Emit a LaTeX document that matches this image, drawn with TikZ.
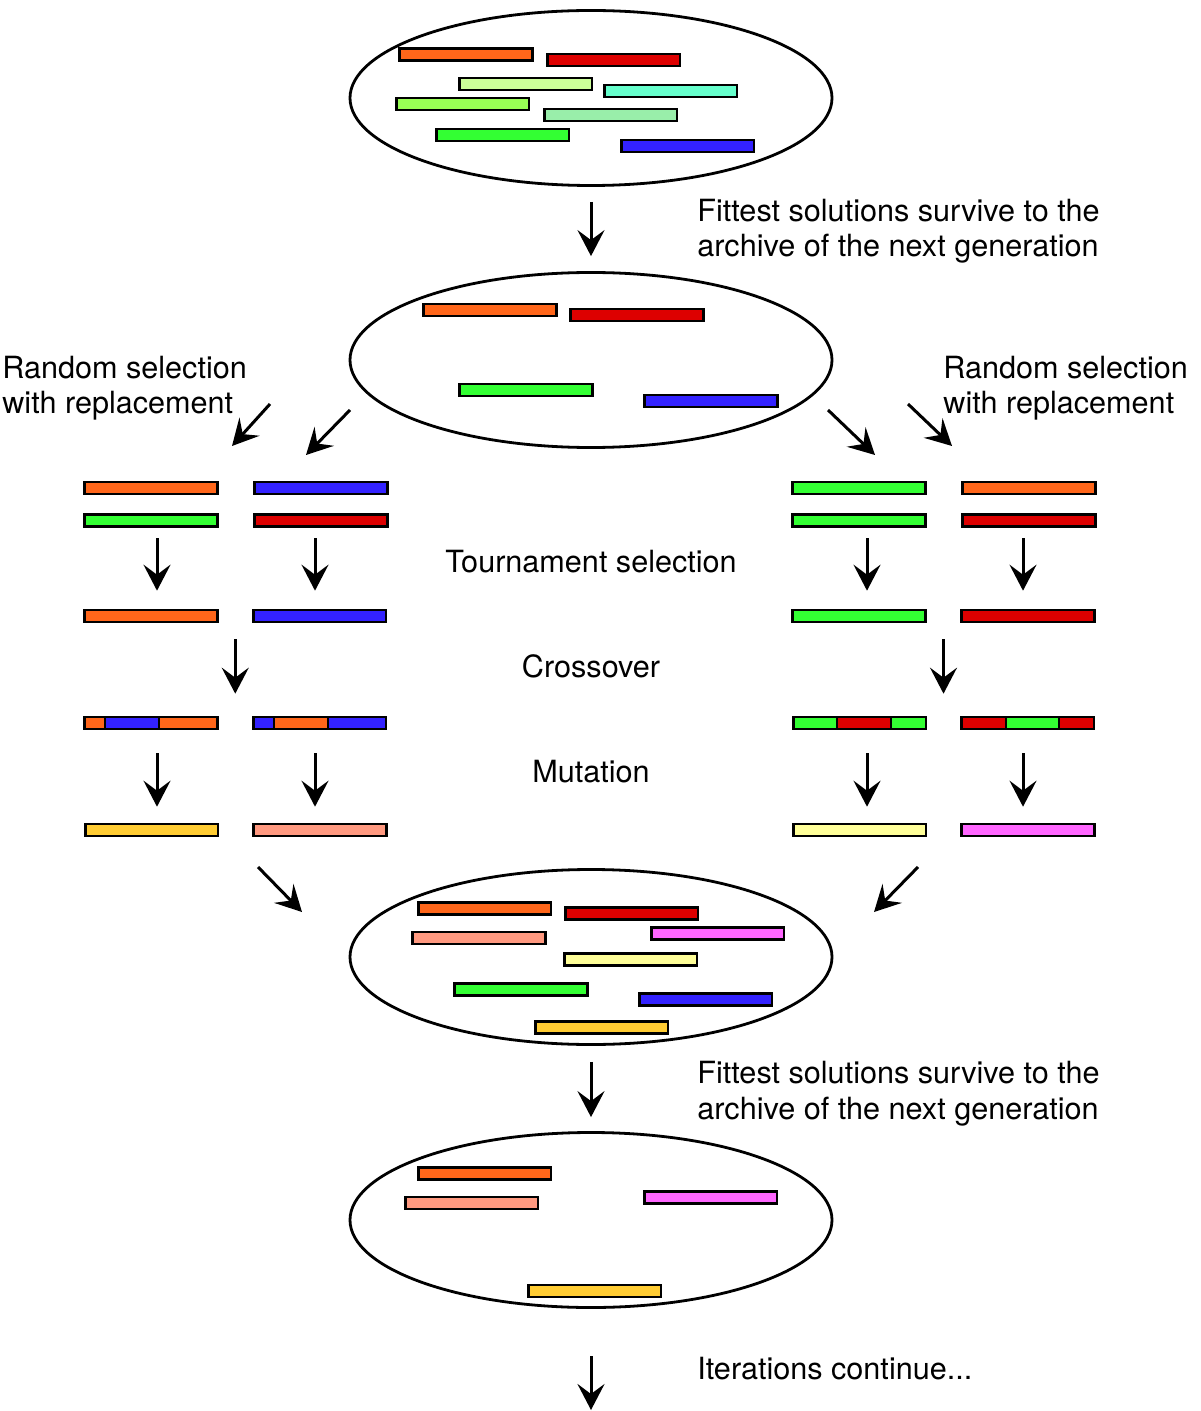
\documentclass[tikz,border=0pt]{standalone}
\usepackage{fontspec}
\setmainfont{TeX Gyre Heros}
\usetikzlibrary{shapes, arrows.meta, positioning, calc}

\definecolor{gOrange}{HTML}{FF661A}
\definecolor{gRed}{HTML}{DD0000}
\definecolor{gLime}{HTML}{CCFF99}
\definecolor{gAqua}{HTML}{66FFCC}
\definecolor{gYellowGreen}{HTML}{99FF55}
\definecolor{gPaleGreen}{HTML}{99EEAA}
\definecolor{gGreen}{HTML}{33FF33}
\definecolor{gBlue}{HTML}{3322FF}
\definecolor{gGold}{HTML}{FFCC33}
\definecolor{gSalmon}{HTML}{FF9980}
\definecolor{gPaleYellow}{HTML}{FFFF99}
\definecolor{gPink}{HTML}{FF66FF}

\begin{document}
\begin{tikzpicture}[x=0.5pt, y=-0.5pt, >={Stealth[length=13pt, width=13.5pt, inset=5pt]},
  pool/.style={ellipse, draw, line width=1.4pt, minimum width=241pt, minimum height=87.5pt, inner sep=0pt},
  gene/.style={rectangle, draw, line width=1.3pt, minimum width=66.3pt, minimum height=6pt, inner sep=0pt},
  arr/.style={->, line width=1.5pt},
  txt/.style={font=\fontsize{15.3}{17.8}\selectfont, inner sep=0pt}]
  \useasboundingbox (0,0) rectangle (1200,1411);

  % populations
  \node[pool] (gen1) at (591,98) {};
  \node[pool] (gen2) at (591,360) {};
  \node[pool] (gen3) at (591,957) {};
  \node[pool] (gen4) at (591,1220) {};

  \node[gene, fill=gOrange] (p1a) at (466,54.5) {};
  \node[gene, fill=gRed] (p1b) at (613.5,60) {};
  \node[gene, fill=gLime] (p1c) at (525.5,84) {};
  \node[gene, fill=gAqua] (p1d) at (670.5,91) {};
  \node[gene, fill=gYellowGreen] (p1e) at (462.5,104) {};
  \node[gene, fill=gPaleGreen] (p1f) at (610.5,115) {};
  \node[gene, fill=gGreen] (p1g) at (502.5,135) {};
  \node[gene, fill=gBlue] (p1h) at (687.5,146) {};

  \node[gene, fill=gOrange] (p2a) at (490,310) {};
  \node[gene, fill=gRed] (p2b) at (637,315) {};
  \node[gene, fill=gGreen] (p2c) at (526,390) {};
  \node[gene, fill=gBlue] (p2d) at (711,401) {};

  \node[gene, fill=gOrange] (p3a) at (484.5,908.5) {};
  \node[gene, fill=gRed] (p3b) at (631.5,913.5) {};
  \node[gene, fill=gSalmon] (p3c) at (479,938) {};
  \node[gene, fill=gPink] (p3d) at (717.5,933.5) {};
  \node[gene, fill=gPaleYellow] (p3e) at (630.5,959.5) {};
  \node[gene, fill=gGreen] (p3f) at (521,989.5) {};
  \node[gene, fill=gBlue] (p3g) at (705.5,999.5) {};
  \node[gene, fill=gGold] (p3h) at (601.5,1027.5) {};

  \node[gene, fill=gOrange] (p4a) at (484.5,1173.5) {};
  \node[gene, fill=gSalmon] (p4b) at (471.5,1203) {};
  \node[gene, fill=gPink] (p4c) at (710.5,1197.5) {};
  \node[gene, fill=gGold] (p4d) at (594.5,1291) {};

  % left branch
  \node[gene, fill=gOrange] (l1a) at (151,488) {};
  \node[gene, fill=gBlue] (l1b) at (321,488) {};
  \node[gene, fill=gGreen] (l2a) at (151,520.5) {};
  \node[gene, fill=gRed] (l2b) at (321,520.5) {};
  \node[gene, fill=gOrange] (l3a) at (151,616) {};
  \node[gene, fill=gBlue] (l3b) at (319.5,616) {};
  \node[gene, fill=gOrange] (l4a) at (151,723) {};
  \node[gene, fill=gBlue] (l4b) at (319.5,723) {};
  \draw[fill=gBlue, line width=1pt] (105,717) rectangle (159,729);
  \draw[fill=gOrange, line width=1pt] (274,717) rectangle (328,729);
  \node[gene, fill=gGold] (l5a) at (151.5,830) {};
  \node[gene, fill=gSalmon] (l5b) at (320,830) {};

  % right branch
  \node[gene, fill=gGreen] (r1a) at (859,488) {};
  \node[gene, fill=gOrange] (r1b) at (1029,488) {};
  \node[gene, fill=gGreen] (r2a) at (859,520.5) {};
  \node[gene, fill=gRed] (r2b) at (1029,520.5) {};
  \node[gene, fill=gGreen] (r3a) at (859,616) {};
  \node[gene, fill=gRed] (r3b) at (1028,616) {};
  \node[gene, fill=gGreen] (r4a) at (859.5,723) {};
  \node[gene, fill=gRed] (r4b) at (1027.5,723) {};
  \draw[fill=gRed, line width=1pt] (837,717) rectangle (891,729);
  \draw[fill=gGreen, line width=1pt] (1006,717) rectangle (1059,729);
  \node[gene, fill=gPaleYellow] (r5a) at (859.5,830) {};
  \node[gene, fill=gPink] (r5b) at (1028,830) {};

  % labels
  \node[txt, anchor=base west, align=left] (fit1) at (697,257) {Fittest solutions survive to the\\archive of the next generation};
  \node[txt, anchor=base west, align=left] (rnd1) at (2,414) {Random selection\\with replacement};
  \node[txt, anchor=base west, align=left] (rnd2) at (943,414) {Random selection\\with replacement};
  \node[txt, anchor=base] (tour) at (591,572) {Tournament selection};
  \node[txt, anchor=base] (cross) at (591,677) {Crossover};
  \node[txt, anchor=base] (mut) at (591,782) {Mutation};
  \node[txt, anchor=base west, align=left] (fit2) at (697,1119) {Fittest solutions survive to the\\archive of the next generation};
  \node[txt, anchor=base west] (iter) at (697,1379) {Iterations continue...};

  \coordinate (ls1) at (270,404); \coordinate (le1) at (232,446);
  \coordinate (ls2) at (350,410); \coordinate (le2) at (306,455);
  \coordinate (rs1) at (828,410); \coordinate (re1) at (875,455);
  \coordinate (rs2) at (908,404); \coordinate (re2) at (952,446);
  \coordinate (ms1) at (258,867); \coordinate (me1) at (302,912);
  \coordinate (ms2) at (918,867); \coordinate (me2) at (874,912);
  \coordinate (iterEnd) at (591,1410);

  \draw[arr, shorten <=7.5pt, shorten >=7.5pt] (gen1) -- (gen2);
  \draw[arr] (ls1) -- (le1); \draw[arr] (ls2) -- (le2);
  \draw[arr] (rs1) -- (re1); \draw[arr] (rs2) -- (re2);

  \draw[arr, shorten <=5.25pt, shorten >=9pt] ([xshift=3pt]l2a.south) -- ([xshift=3pt]l3a.north);
  \draw[arr, shorten <=5.25pt, shorten >=9pt] ([xshift=-3pt]l2b.south) -- ([xshift=-2.25pt]l3b.north);
  \draw[arr, shorten <=5.25pt, shorten >=9pt] ([xshift=4pt]r2a.south) -- ([xshift=4pt]r3a.north);
  \draw[arr, shorten <=5.25pt, shorten >=9pt] ([xshift=-3pt]r2b.south) -- ([xshift=-2.5pt]r3b.north);

  \draw[arr, shorten <=8pt, shorten >=11pt] ($(l3a.south)!0.5!(l3b.south)$) -- ($(l4a.north)!0.5!(l4b.north)$);
  \draw[arr, shorten <=8pt, shorten >=11pt] ($(r3a.south)!0.5!(r3b.south)$) -- ($(r4a.north)!0.5!(r4b.north)$);

  \draw[arr, shorten <=11.5pt, shorten >=8pt] ([xshift=3pt]l4a.south) -- ([xshift=2.75pt]l5a.north);
  \draw[arr, shorten <=11.5pt, shorten >=8pt] ([xshift=-2.25pt]l4b.south) -- ([xshift=-2.5pt]l5b.north);
  \draw[arr, shorten <=11.5pt, shorten >=8pt] ([xshift=3.75pt]r4a.south) -- ([xshift=3.75pt]r5a.north);
  \draw[arr, shorten <=11.5pt, shorten >=8pt] ([xshift=-2.25pt]r4b.south) -- ([xshift=-2.5pt]r5b.north);

  \draw[arr] (ms1) -- (me1); \draw[arr] (ms2) -- (me2);
  \draw[arr, shorten <=8pt, shorten >=7pt] (gen3) -- (gen4);
  \draw[arr, shorten <=23.75pt] (gen4) -- (iterEnd);
\end{tikzpicture}
\end{document}
